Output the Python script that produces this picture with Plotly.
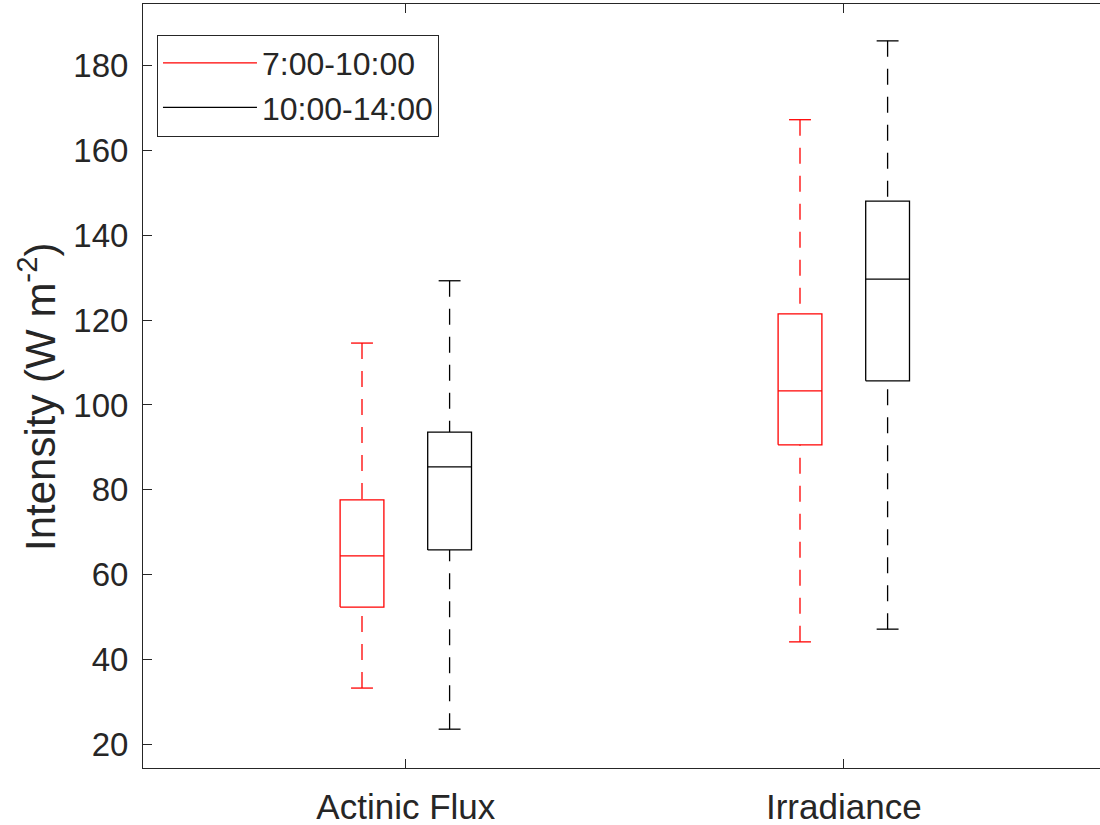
import plotly.graph_objects as go

# ---- data ----
categories = ["Actinic Flux", "Irradiance"]
cat_pos = [1, 2]
series_names = ["7:00-10:00", "10:00-14:00"]
series_colors = ["#FF0000", "#000000"]
series_offsets = [-0.1, 0.1]

lower_a = [33.2, 44.1]
q1_a = [52.3, 90.6]
median_a = [64.4, 103.3]
q3_a = [77.6, 121.5]
upper_a = [114.6, 167.3]

lower_b = [23.5, 47.1]
q1_b = [65.8, 105.7]
median_b = [85.4, 129.7]
q3_b = [93.6, 148.1]
upper_b = [129.3, 185.9]

y_ticks = [20, 40, 60, 80, 100, 120, 140, 160, 180]

series_stats = [
    (lower_a, q1_a, median_a, q3_a, upper_a),
    (lower_b, q1_b, median_b, q3_b, upper_b),
]

BOX_W = 0.1
CAP_W = 0.05
AXIS_COLOR = "#262626"
FONT = "Liberation Sans, Arial, sans-serif"

fig = go.Figure()

for name, color, off, stats in zip(series_names, series_colors, series_offsets, series_stats):
    lo, q1, med, q3, hi = stats
    bx, by = [], []
    wx, wy = [], []
    cx, cy = [], []
    for i, c in enumerate(cat_pos):
        x = c + off
        l, r = x - BOX_W / 2, x + BOX_W / 2
        bx += [l, r, r, l, l, None, l, r, None]
        by += [q1[i], q1[i], q3[i], q3[i], q1[i], None, med[i], med[i], None]
        wx += [x, x, None, x, x, None]
        wy += [hi[i], q3[i], None, lo[i], q1[i], None]
        cx += [x - CAP_W / 2, x + CAP_W / 2, None, x - CAP_W / 2, x + CAP_W / 2, None]
        cy += [hi[i], hi[i], None, lo[i], lo[i], None]
    fig.add_trace(go.Scatter(x=bx, y=by, mode="lines", name=name,
                             line=dict(color=color, width=1.3), hoverinfo="skip"))
    fig.add_trace(go.Scatter(x=wx, y=wy, mode="lines", showlegend=False,
                             line=dict(color=color, width=1.3, dash="16px,12px"),
                             hoverinfo="skip"))
    fig.add_trace(go.Scatter(x=cx, y=cy, mode="lines", showlegend=False,
                             line=dict(color=color, width=1.3), hoverinfo="skip"))

fig.update_layout(
    width=1100, height=825,
    margin=dict(l=143, r=0, t=4, b=57, autoexpand=False),
    paper_bgcolor="white", plot_bgcolor="white",
    font=dict(family=FONT, color=AXIS_COLOR),
    showlegend=True,
    legend=dict(x=0.0146, y=0.960, xanchor="left", yanchor="top",
                bgcolor="white", bordercolor=AXIS_COLOR, borderwidth=1,
                font=dict(size=32, family=FONT, color=AXIS_COLOR),
                itemwidth=94, tracegroupgap=0),
    xaxis=dict(range=[0.4, 0.4 + 957 / 438], tickmode="array",
               tickvals=cat_pos, ticktext=categories, automargin=False,
               showline=True, linecolor=AXIS_COLOR, linewidth=1, mirror="allticks",
               ticks="inside", ticklen=9, tickcolor=AXIS_COLOR,
               showgrid=False, zeroline=False,
               tickfont=dict(size=35, family=FONT, color=AXIS_COLOR),
               ticklabelstandoff=8),
    yaxis=dict(range=[14.34, 194.6], tickmode="array", tickvals=y_ticks,
               automargin=False,
               showline=True, linecolor=AXIS_COLOR, linewidth=1, mirror=False,
               ticks="inside", ticklen=9, tickcolor=AXIS_COLOR,
               showgrid=False, zeroline=False,
               tickfont=dict(size=33, family=FONT, color=AXIS_COLOR),
               ticklabelstandoff=7),
    annotations=[dict(text="Intensity (W m<sup>-2</sup>)", textangle=-90,
                      xref="paper", yref="paper", x=(37 - 143) / 957, y=(768 - 397) / 764,
                      xanchor="center", yanchor="middle", showarrow=False,
                      font=dict(size=42, family=FONT, color=AXIS_COLOR))],
)

fig.write_html("out.html")
